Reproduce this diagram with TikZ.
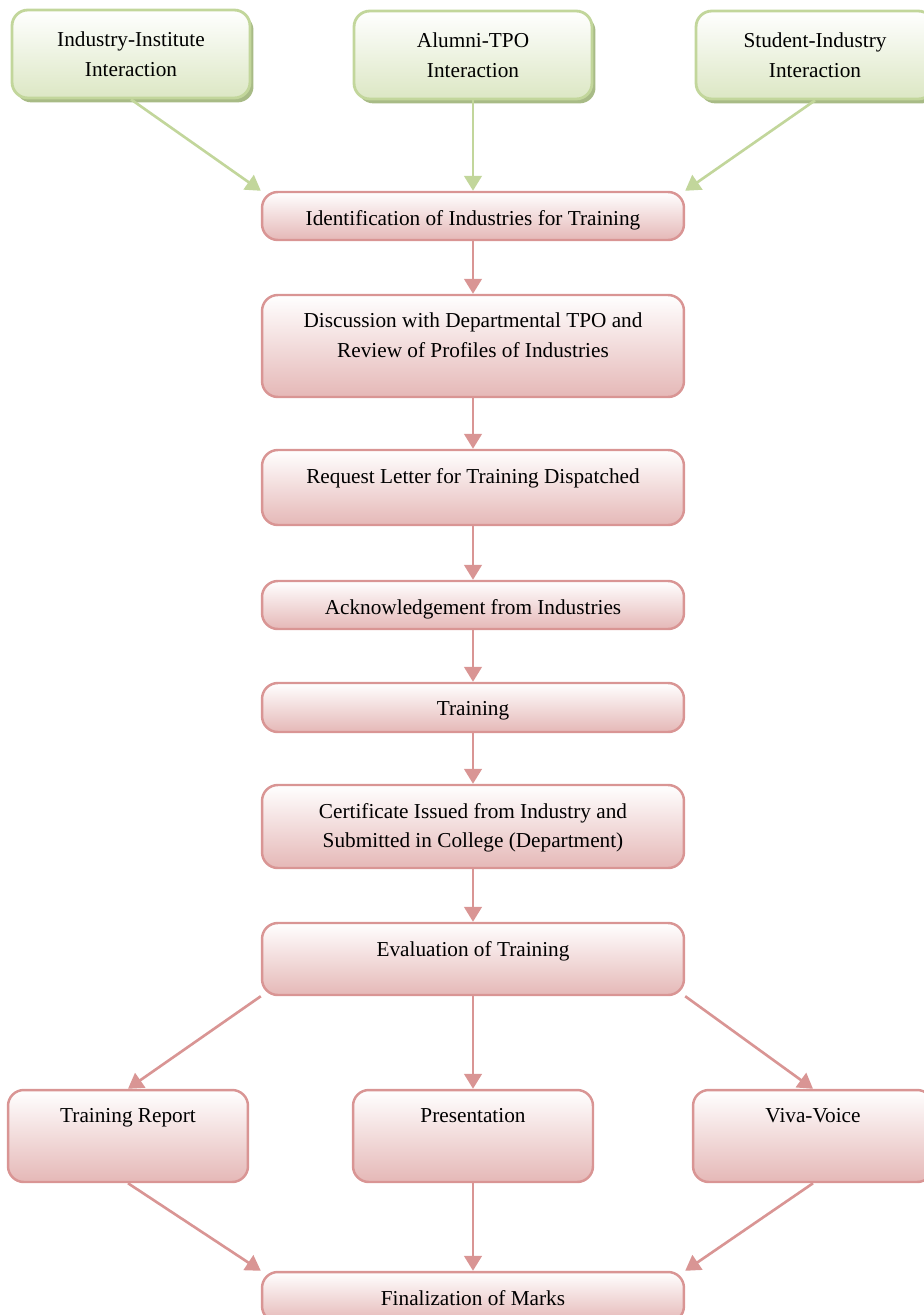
\documentclass[tikz,border=0pt]{standalone}
\usepackage{fontspec}
\setmainfont{Liberation Serif}
\usetikzlibrary{arrows.meta,shadows}
\definecolor{pinkline}{HTML}{D99594}
\definecolor{pinkfill}{HTML}{E5B8B7}
\definecolor{greenline}{HTML}{C2D69B}
\definecolor{greenfill}{HTML}{DCE7C4}
\definecolor{greenshade}{HTML}{A8BB86}

\begin{document}
\begin{tikzpicture}[x=0.02cm,y=-0.02cm,>={Triangle[length=8.5pt,width=10pt]},
  font=\fontsize{12.1pt}{16.8pt}\selectfont,
  greenbox/.style={draw=greenline, line width=1.6pt, rounded corners=9pt,
    top color=white, bottom color=greenfill, align=center, inner sep=0pt,
    minimum width=4.76cm, minimum height=1.76cm,
    drop shadow={shadow xshift=2pt, shadow yshift=-2.5pt, fill=greenshade, opacity=1}},
  pinkbox/.style={draw=pinkline, line width=1.4pt, rounded corners=9pt,
    top color=white, bottom color=pinkfill, inner sep=0pt, minimum width=8.44cm},
  smallbox/.style={pinkbox, minimum width=4.8cm, minimum height=1.84cm},
  boxtext/.style={anchor=north, inner sep=0pt, align=center, yshift=-0.38cm},
  pinkarrow/.style={->, draw=pinkline, line width=1.5pt},
  greenarrow/.style={->, draw=greenline, line width=1.5pt}]
    \useasboundingbox (0,0) rectangle (923,1315);

    % sources of contacts
    \node[greenbox] (iii) at (131,54) {Industry-Institute\\Interaction};
    \node[greenbox] (atpo) at (473,55) {Alumni-TPO\\Interaction};
    \node[greenbox] (sii) at (815,55) {Student-Industry\\Interaction};

    % main column
    \node[pinkbox, minimum height=0.96cm] (ident) at (473,216) {};
    \node[pinkbox, minimum height=2.04cm] (disc) at (473,346) {};
    \node[pinkbox, minimum height=1.5cm] (req) at (473,487.5) {};
    \node[pinkbox, minimum height=0.96cm] (ack) at (473,605) {};
    \node[pinkbox, minimum height=0.98cm] (train) at (473,707.5) {};
    \node[pinkbox, minimum height=1.66cm] (cert) at (473,826.5) {};
    \node[pinkbox, minimum height=1.44cm] (eval) at (473,959) {};

    % evaluation parts
    \node[smallbox] (rep) at (128,1136) {};
    \node[smallbox] (pres) at (473,1136) {};
    \node[smallbox] (viva) at (813,1136) {};

    % result
    \node[pinkbox, minimum height=1cm] (marks) at (473,1297) {};

    % texts of the boxes
    \node[boxtext] (ident-t) at (ident.north) {Identification of Industries for Training};
    \node[boxtext] (disc-t) at (disc.north) {Discussion with Departmental TPO and\\Review of Profiles of Industries};
    \node[boxtext] (req-t) at (req.north) {Request Letter for Training Dispatched};
    \node[boxtext] (ack-t) at (ack.north) {Acknowledgement from Industries};
    \node[boxtext] (train-t) at (train.north) {Training};
    \node[boxtext] (cert-t) at (cert.north) {Certificate Issued from Industry and\\Submitted in College (Department)};
    \node[boxtext] (eval-t) at (eval.north) {Evaluation of Training};
    \node[boxtext] (rep-t) at (rep.north) {Training Report};
    \node[boxtext] (pres-t) at (pres.north) {Presentation};
    \node[boxtext] (viva-t) at (viva.north) {Viva-Voice};
    \node[boxtext] (marks-t) at (marks.north) {Finalization of Marks};

    % green arrows
    \draw[greenarrow] (iii.south) -- (ident.north west);
    \draw[greenarrow] (atpo.south) -- (ident.north);
    \draw[greenarrow] (sii.south) -- (ident.north east);

    % pink arrows
    \draw[pinkarrow] (ident.south) -- (disc.north);
    \draw[pinkarrow] (disc.south) -- (req.north);
    \draw[pinkarrow] (req.south) -- (ack.north);
    \draw[pinkarrow] (ack.south) -- (train.north);
    \draw[pinkarrow] (train.south) -- (cert.north);
    \draw[pinkarrow] (cert.south) -- (eval.north);
    \draw[pinkarrow] (eval.south west) -- (rep.north);
    \draw[pinkarrow] (eval.south) -- (pres.north);
    \draw[pinkarrow] (eval.south east) -- (viva.north);
    \draw[pinkarrow] (rep.south) -- (marks.north west);
    \draw[pinkarrow] (pres.south) -- (marks.north);
    \draw[pinkarrow] (viva.south) -- (marks.north east);
\end{tikzpicture}
\end{document}
